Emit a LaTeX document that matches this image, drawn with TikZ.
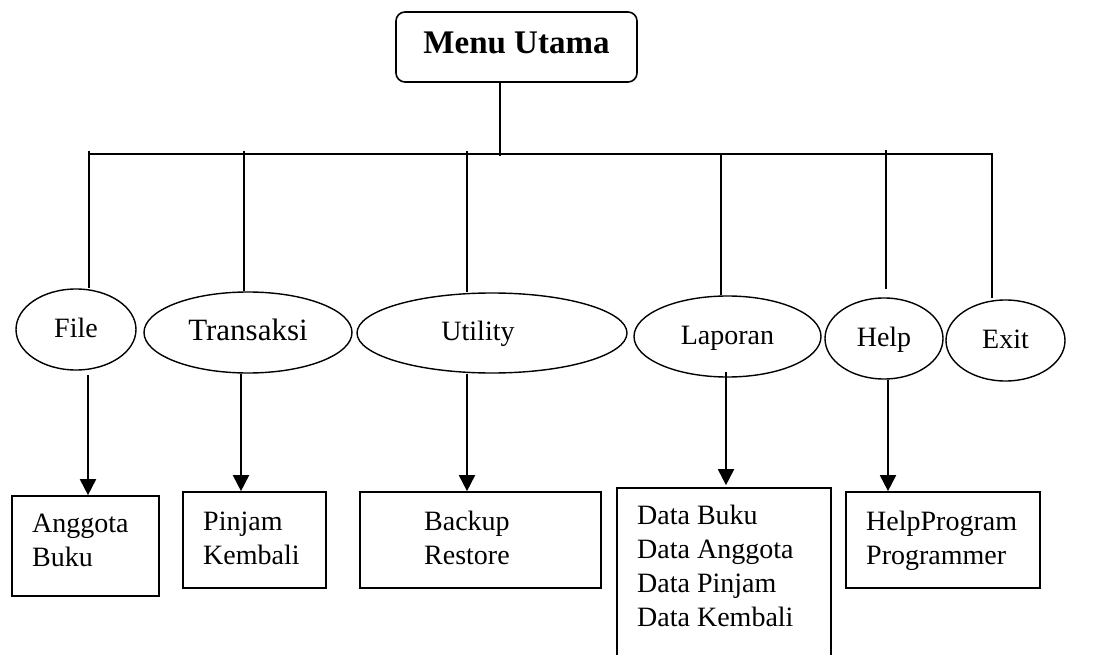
\documentclass[tikz,border=0pt]{standalone}
\usepackage{fontspec}
\setmainfont{Liberation Serif}
\usetikzlibrary{shapes.geometric,arrows.meta}
\tikzset{
  ln/.style={line width=1.8},
  menubox/.style={draw, rounded corners=9, line width=1.6, inner sep=0, text depth=9,
    font=\fontsize{33}{38}\selectfont\bfseries},
  ell/.style={ellipse, draw, line width=1.4, inner sep=0, text height=20, text depth=5,
    font=\fontsize{28}{34}\selectfont},
  sbox/.style={draw, rectangle, line width=1.7, inner sep=0},
  lbl/.style={anchor=base west, inner sep=0, font=\fontsize{28}{34}\selectfont},
  arr/.style={line width=1.9, -{Triangle[length=16,width=16]}}
}
\begin{document}
\begin{tikzpicture}[x=1pt,y=-1pt]
\useasboundingbox (0,0) rectangle (1098,655);
\fill[white] (0,0) rectangle (1098,655);

% top node
\node[menubox, minimum width=241, minimum height=70] (menu) at (516.5,47) {Menu Utama};

% bus
\coordinate (busL) at (88,154);
\coordinate (busR) at (993,154);
\coordinate (m1) at (500,156);
\draw[ln] (busL) -- (busR);
\draw[ln] (menu.south -| m1) -- (m1);

% ellipses
\node[ell, minimum width=120, minimum height=81] (file)  at (76,329.5)   {File};
\node[ell, minimum width=208, minimum height=81, font=\fontsize{31}{36}\selectfont] (trans) at (248,332.5)  {Transaksi};
\node[ell, minimum width=270, minimum height=80] (util)  at (492,333)    {Utility\hspace*{28pt}};
\node[ell, minimum width=187, minimum height=81] (lap)   at (727.5,336.5){Laporan};
\node[ell, minimum width=118, minimum height=81] (help)  at (884,338.5)  {Help};
\node[ell, minimum width=119, minimum height=81] (exit)  at (1005.5,340.5){Exit};

% drops from bus
\coordinate (tF) at (89,151);
\coordinate (tT) at (244,151);
\coordinate (tU) at (467,151);
\coordinate (tL) at (721,154);
\coordinate (tH) at (886,150);
\coordinate (tE) at (992,154);
\draw[ln] (tF) -- (file.north -| tF);
\draw[ln] (tT) -- (trans.north -| tT);
\draw[ln] (tU) -- (util.north -| tU);
\draw[ln] (tL) -- (lap.north -| tL);
\draw[ln, shorten >=8] (tH) -- (help.north -| tH);
\draw[ln] (tE) -- ([yshift=1]exit.north -| tE);

% sub boxes
\node[sbox, minimum width=147, minimum height=100] (anggota) at (85.5,546) {};
\node[sbox, minimum width=143, minimum height=96]  (pinjam)  at (254.5,540) {};
\node[sbox, minimum width=241, minimum height=96]  (backup)  at (480.5,540) {};
\node[sbox, minimum width=214, minimum height=212] (lapbox)  at (724,594) {};
\node[sbox, minimum width=194, minimum height=96]  (helpbox) at (943,540) {};

% texts
\node[lbl] (tx1) at (32,532)  {\begin{tabular}[t]{@{}l@{}}Anggota\\Buku\end{tabular}};
\node[lbl] (tx2) at (203,530) {\begin{tabular}[t]{@{}l@{}}Pinjam\\Kembali\end{tabular}};
\node[lbl] (tx3) at (424,530) {\begin{tabular}[t]{@{}l@{}}Backup\\Restore\end{tabular}};
\node[lbl] (tx4) at (637,524) {\begin{tabular}[t]{@{}l@{}}Data Buku\\Data Anggota\\Data Pinjam\\Data Kembali\end{tabular}};
\node[lbl] (tx5) at (866,530) {\begin{tabular}[t]{@{}l@{}}HelpProgram\\Programmer\end{tabular}};

% arrows
\coordinate (aF) at (88,375);
\coordinate (aT) at (241,0);
\coordinate (aU) at (467,0);
\coordinate (aL) at (726,372);
\coordinate (aH) at (888,0);
\draw[arr] (aF) -- (aF |- anggota.north);
\draw[arr] (trans.south -| aT) -- (aT |- pinjam.north);
\draw[arr] (util.south -| aU) -- (aU |- backup.north);
\draw[arr] (aL) -- ([yshift=2]aL |- lapbox.north);
\draw[arr] (help.south -| aH) -- (aH |- helpbox.north);
\end{tikzpicture}
\end{document}
